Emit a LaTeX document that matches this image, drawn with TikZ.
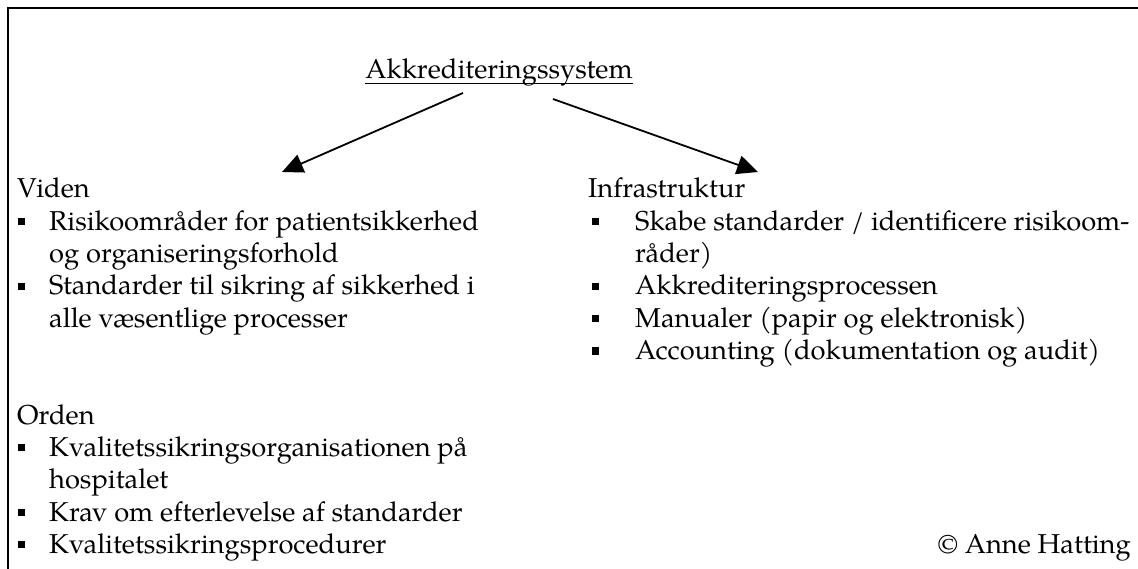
\documentclass[tikz,border=0pt]{standalone}
\usepackage{fontspec}
\setmainfont{TeX Gyre Pagella}
\usetikzlibrary{arrows.meta}
\begin{document}
\begin{tikzpicture}[x=1pt,y=-1pt,
  txt/.style={anchor=base west,inner sep=0pt,font=\fontsize{27.3}{32}\selectfont},
  sq/.style={fill=black,inner sep=0pt,minimum size=7pt},
  arr/.style={line width=1.8pt,-{Triangle[length=21pt,width=19pt]}}]
\useasboundingbox (0,0) rectangle (1138,569);
% frame: top and left edges only
\draw[line width=2.5pt] (8,569) -- (8,8) -- (1138,8);

% title with a word-processor style underline through the descenders
\node[txt,anchor=base] (title) at (499,79) {Akkrediteringssystem};
\draw[line width=1.4pt] ([yshift=-4.5pt]title.base west) -- ([yshift=-4.5pt]title.base east);

% arrows to the two branches
\coordinate (ls) at (463,93);
\coordinate (lt) at (282,172);
\coordinate (rs) at (553,99);
\coordinate (rt) at (758,172);
\draw[arr] (ls) -- (lt);
\draw[arr] (rs) -- (rt);

% left column: Viden
\node[txt] (viden) at (17,198) {Viden};
\node[sq] (bv1) at (21.5,221.5) {};
\node[txt] (v1a) at (49,230.3) {Risikoområder for patientsikkerhed};
\node[txt] (v1b) at (49,262.6) {og organiseringsforhold};
\node[sq] (bv2) at (21.5,286.4) {};
\node[txt] (v2a) at (49,294.9) {Standarder til sikring af sikkerhed i};
\node[txt] (v2b) at (49,327.2) {alle væsentlige processer};

% left column: Orden
\node[txt] (orden) at (17,424.1) {Orden};
\node[sq] (bo1) at (21.5,447.9) {};
\node[txt] (o1a) at (49,456.4) {Kvalitetssikringsorganisationen på};
\node[txt] (o1b) at (49,488.7) {hospitalet};
\node[sq] (bo2) at (21.5,512.5) {};
\node[txt] (o2) at (49,521) {Krav om efterlevelse af standarder};
\node[sq] (bo3) at (21.5,544.8) {};
\node[txt] (o3) at (49,553.3) {Kvalitetssikringsprocedurer};

% right column: Infrastruktur
\node[txt] (infra) at (588,198) {Infrastruktur};
\node[sq] (bi1) at (595.5,221.5) {};
\node[txt] (i1a) at (635,230.3) {Skabe standarder / identificere risikoom-};
\node[txt] (i1b) at (635,262.6) {råder)};
\node[sq] (bi2) at (595.5,286.4) {};
\node[txt] (i2) at (635,294.9) {Akkrediteringsprocessen};
\node[sq] (bi3) at (595.5,318.7) {};
\node[txt] (i3) at (635,327.2) {Manualer (papir og elektronisk)};
\node[sq] (bi4) at (595.5,351) {};
\node[txt] (i4) at (635,359.5) {Accounting (dokumentation og audit)};

% credit
\node[txt,anchor=base east] (credit) at (1131,553.3) {© Anne Hatting};
\end{tikzpicture}
\end{document}
